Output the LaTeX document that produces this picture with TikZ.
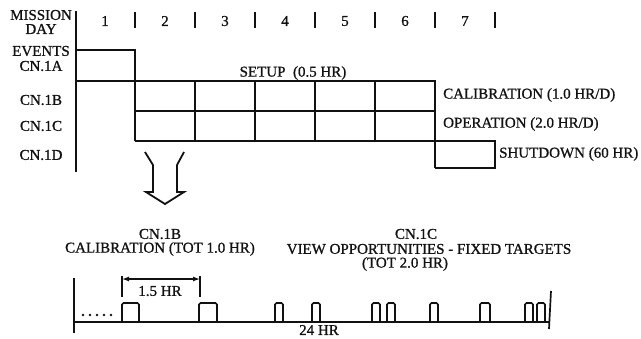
\documentclass[tikz,border=0pt]{standalone}
\usepackage{fontspec}
\setmainfont{Liberation Serif}
\newfontfamily\scanfont{Liberation Serif}[FakeBold=0.9]
\usepackage{xcolor}
\usepackage{tikz}
\usetikzlibrary{positioning,arrows.meta}
\definecolor{inkblack}{HTML}{111111}

\begin{document}
\begin{tikzpicture}[x=1pt, y=-1pt,
    lbl/.style={font=\scanfont\fontsize{15}{16}\selectfont, text=inkblack, inner sep=0pt},
    heavy/.style={draw=inkblack, line width=2.2pt},
    thin/.style={draw=inkblack, line width=1.7pt},
    pulse/.style={thin, rounded corners=1.5pt}]
  \useasboundingbox (0,0) rectangle (641,338);

  % day scale
  \draw[heavy] (76,11) -- (76,172);
  \foreach \d/\x in {1/105,2/165,3/225,4/285,5/345,6/405,7/465}
    \node[lbl] (day\d) at (\x,21) {\d};
  \foreach \x in {135,195,...,495}
    \draw[heavy] (\x,12) -- (\x,28);

  % row labels
  \node[lbl] (mission) at (41,15) {MISSION};
  \node[lbl] (dayhead) at (41,29) {DAY};
  \node[lbl] (events) at (41,51) {EVENTS};
  \node[lbl] (cnA) at (41,66) {CN.1A};
  \node[lbl] (cnB) at (41,100) {CN.1B};
  \node[lbl] (cnC) at (41,126) {CN.1C};
  \node[lbl] (cnD) at (41,155) {CN.1D};

  % event bars
  \draw[heavy] (76,50) -- (135,50) -- (135,141);
  \draw[heavy] (76,81) -- (435,81) -- (435,168);
  \draw[heavy] (135,111) -- (435,111);
  \draw[heavy] (135,141) -- (495,141) -- (495,168) -- (435,168);
  \foreach \x in {195,255,...,375}
    \draw[heavy] (\x,81) -- (\x,141);

  \node[lbl] (setup) at (293,73) {SETUP\ \ (0.5 HR)};
  \node[lbl, anchor=west] (calib) at (443,95) {CALIBRATION (1.0 HR/D)};
  \node[lbl, anchor=west] (oper) at (443,124) {OPERATION (2.0 HR/D)};
  \node[lbl, anchor=west] (shut) at (499,154) {SHUTDOWN (60 HR)};

  % hollow arrow
  \draw[thin, line width=1.8pt, line join=miter]
    (145,152) -- (153,165) -- (153,192) -- (146,192) -- (165,204)
    -- (184,192) -- (177,192) -- (177,165) -- (184,152);

  % detail of one day
  \node[lbl] (cnBtitle) at (160,234) {CN.1B};
  \node[lbl] (calibtot) at (160,249) {CALIBRATION (TOT 1.0 HR)};
  \node[lbl] (cnCtitle) at (416,234) {CN.1C};
  \node[lbl] (viewopp) at (429,249) {VIEW OPPORTUNITIES - FIXED TARGETS};
  \node[lbl] (optot) at (405,264) {(TOT 2.0 HR)};

  \draw[thin] (74,278) -- (74,333);
  \draw[thin] (74,322) -- (550,322);
  \draw[thin] (551,291) -- (549,329);
  \foreach \x in {83,90,...,111}
    \fill[inkblack] (\x,315) circle (1.4pt);
  \foreach \a/\b in {122/139,199/217,275/283,312/320,372/380,387/395,430/438,480/490,525/533,537/545}
    \draw[pulse] (\a,322) -- (\a,303) -- (\b,303) -- (\b,322);

  \coordinate (dimL) at (122,279);
  \coordinate (dimR) at (200,279);
  \draw[thin] (122,276) -- (122,297);
  \draw[thin] (200,276) -- (200,297);
  \draw[thin, line width=1.3pt, {Latex[length=7pt,width=5pt]}-{Latex[length=7pt,width=5pt]}] (dimL) -- (dimR);
  \node[lbl] (span) at (160,291) {1.5 HR};
  \node[lbl] (day24) at (319,330) {24 HR};
\end{tikzpicture}
\end{document}
